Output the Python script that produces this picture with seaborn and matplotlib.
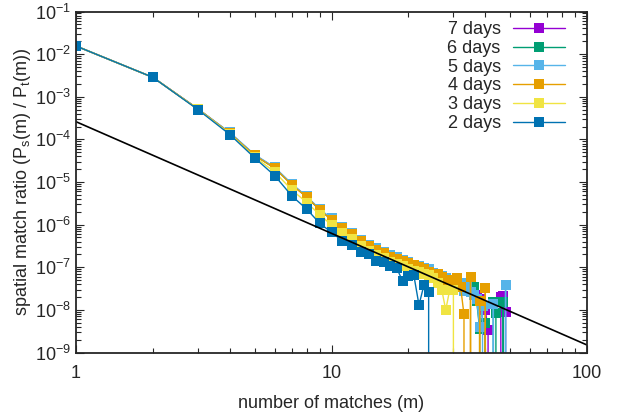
import numpy as np
import pandas as pd
import seaborn as sns
import matplotlib.pyplot as plt
from matplotlib.ticker import LogLocator, FuncFormatter, NullFormatter

# P_s(m) / P_t(m) for each observation window, m = 1, 2, 3, ...
# (0 = no spatial match at that m, drawn as a drop off the log axis)
days_7 = [1.55e-2, 2.85e-3, 5.2e-4, 1.42e-4, 4.3e-5, 2.15e-5, 8.8e-6, 4.5e-6, 2.25e-6, 1.35e-6,
          8.6e-7, 6.2e-7, 4.2e-7, 3.3e-7, 2.7e-7, 2.25e-7, 1.8e-7, 1.65e-7, 1.45e-7, 1.25e-7,
          1.1e-7, 1.0e-7, 9.2e-8, 8.4e-8, 7.2e-8, 6.6e-8, 6.0e-8, 5.4e-8, 4.8e-8, 4.4e-8,
          5.2e-8, 4.2e-8, 3.6e-8, 3.9e-8, 3.0e-8, 2.8e-8, 2.2e-8, 1.8e-8, 1.2e-8, 1.0e-8,
          3.3e-9, 0, 0, 0, 0, 2.0e-8, 2.1e-8, 8.9e-9, 0]
days_6 = [1.55e-2, 2.85e-3, 5.15e-4, 1.4e-4, 4.25e-5, 2.1e-5, 8.7e-6, 4.45e-6, 2.2e-6, 1.32e-6,
          8.5e-7, 6.1e-7, 4.15e-7, 3.25e-7, 2.65e-7, 2.2e-7, 1.78e-7, 1.62e-7, 1.42e-7, 1.24e-7,
          1.08e-7, 9.8e-8, 9.0e-8, 8.2e-8, 7.0e-8, 6.5e-8, 5.9e-8, 5.3e-8, 4.7e-8, 4.3e-8,
          5.0e-8, 4.0e-8, 3.5e-8, 3.8e-8, 2.9e-8, 3.5e-8, 1.6e-8, 3.6e-9, 0, 4.8e-9,
          0, 0, 1.5e-8, 8.3e-9, 0, 0, 1.5e-8, 0]
days_5 = [1.55e-2, 2.85e-3, 5.2e-4, 1.45e-4, 4.4e-5, 2.2e-5, 9.0e-6, 4.6e-6, 2.3e-6, 1.4e-6,
          8.8e-7, 6.4e-7, 4.4e-7, 3.4e-7, 2.8e-7, 2.3e-7, 1.9e-7, 1.7e-7, 1.5e-7, 1.3e-7,
          1.15e-7, 1.05e-7, 9.5e-8, 8.9e-8, 7.5e-8, 6.9e-8, 6.2e-8, 5.6e-8, 5.0e-8, 4.6e-8,
          4.2e-8, 3.6e-8, 2.8e-8, 4.2e-8, 2.6e-8, 2.2e-8, 1.8e-8, 4.0e-9, 1.2e-8, 0,
          0, 0, 1.4e-8, 0, 0, 0, 0, 3.8e-8, 0]
days_4 = [1.55e-2, 2.85e-3, 5.2e-4, 1.4e-4, 4.2e-5, 2.1e-5, 8.5e-6, 4.4e-6, 2.2e-6, 1.3e-6,
          8.4e-7, 6.0e-7, 4.1e-7, 3.2e-7, 2.6e-7, 2.2e-7, 1.75e-7, 1.6e-7, 1.4e-7, 1.23e-7,
          1.1e-7, 1.0e-7, 8.9e-8, 7.9e-8, 6.5e-8, 6.8e-8, 6.0e-8, 5.1e-8, 5.0e-8, 4.0e-8,
          5.5e-8, 3.5e-8, 7.8e-9, 0, 5.8e-8, 0, 0, 1.6e-8, 0, 3.2e-8,
          0]
days_3 = [1.55e-2, 2.85e-3, 5.1e-4, 1.35e-4, 3.9e-5, 1.7e-5, 6.5e-6, 3.3e-6, 1.7e-6, 9.8e-7,
          6.4e-7, 4.6e-7, 3.1e-7, 2.4e-7, 1.95e-7, 1.65e-7, 1.35e-7, 1.2e-7, 1.05e-7, 9.3e-8,
          8.3e-8, 7.6e-8, 6.8e-8, 6.5e-8, 5.5e-8, 4.2e-8, 3.0e-8, 1.0e-8, 2.9e-8, 2.9e-8,
          0]
days_2 = [1.55e-2, 2.85e-3, 5.0e-4, 1.3e-4, 3.7e-5, 1.4e-5, 4.7e-6, 2.3e-6, 1.07e-6, 6.6e-7,
          4.2e-7, 3.4e-7, 2.3e-7, 2.0e-7, 1.4e-7, 1.3e-7, 1.07e-7, 9.5e-8, 4.7e-8, 6.3e-8,
          6.5e-8, 1.3e-8, 3.8e-8, 2.6e-8, 0]

labels = ['7 days', '6 days', '5 days', '4 days', '3 days', '2 days']
colors = ['#9400d3', '#009e73', '#56b4e9', '#e69f00', '#f0e442', '#0072b2']

# straight power-law guide line
ref_m = [1, 100]
ref_ratio = [2.6e-4, 1.5e-9]

rows = []
for lab, vals in zip(labels, [days_7, days_6, days_5, days_4, days_3, days_2]):
    for i, v in enumerate(vals):
        rows.append({'m': i + 1, 'ratio': v, 'period': lab})
df = pd.DataFrame(rows)
ref = pd.DataFrame({'m': ref_m, 'ratio': ref_ratio})

sns.set_style('ticks')
plt.rcParams['font.family'] = ['Liberation Sans', 'DejaVu Sans']
plt.rcParams['mathtext.fontset'] = 'custom'
plt.rcParams['mathtext.rm'] = 'Liberation Sans'
plt.rcParams['mathtext.it'] = 'Liberation Sans:italic'
plt.rcParams['font.size'] = 13

fig, ax = plt.subplots(figsize=(6.23, 4.12), dpi=100)
fig.subplots_adjust(left=76 / 623, right=587 / 623, top=1 - 11.5 / 412, bottom=1 - 352.5 / 412)

sns.lineplot(data=df, x='m', y='ratio', hue='period', hue_order=labels,
             palette=colors, estimator=None, sort=True, legend=False,
             marker='s', markersize=6.5, markeredgewidth=0, linewidth=1.0, ax=ax)
sns.lineplot(data=ref, x='m', y='ratio', color='black', linewidth=1.2,
             estimator=None, legend=False, ax=ax)

ax.set_xscale('log')
ax.set_yscale('log')
ax.set_xlim(1, 100)
ax.set_ylim(1e-9, 1e-1)

ax.xaxis.set_major_formatter(FuncFormatter(lambda v, p: f'{v:g}'))
ax.xaxis.set_minor_formatter(NullFormatter())
ax.yaxis.set_major_locator(LogLocator(base=10, numticks=20))
ax.yaxis.set_minor_locator(LogLocator(base=10, subs=np.arange(2, 10), numticks=100))
ax.yaxis.set_minor_formatter(NullFormatter())

ax.tick_params(which='both', direction='in', top=True, right=True, width=0.8, labelsize=13)
ax.tick_params(which='major', length=6)
ax.tick_params(which='minor', length=3.5)
ax.tick_params(axis='x', pad=9)
for s in ax.spines.values():
    s.set_linewidth(1.3)

ax.set_xlabel('number of matches (m)', fontsize=13, labelpad=9)
ax.set_ylabel(r'spatial match ratio (P$_{\mathregular{s}}$(m) / P$_{\mathregular{t}}$(m))',
              fontsize=13, labelpad=1.5)

ax.legend(ax.lines[:6], labels, loc='upper right', bbox_to_anchor=(0.957, 0.972),
          frameon=False, markerfirst=False, handlelength=2.9, handletextpad=0.66,
          labelspacing=0.1, borderaxespad=0, borderpad=0, fontsize=13)

plt.savefig('out.png', dpi=100)
